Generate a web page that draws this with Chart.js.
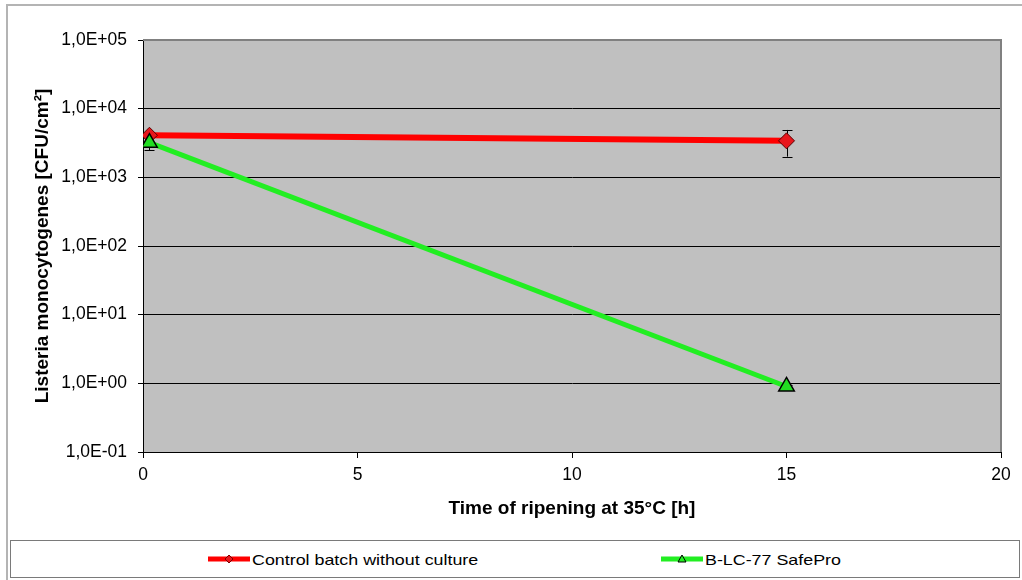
<!DOCTYPE html>
<html>
<head>
<meta charset="utf-8">
<script src="https://cdn.jsdelivr.net/npm/chart.js@4.4.1/dist/chart.umd.min.js"></script>
<style>
    body { margin: 0; background: #fff; font-family: "Liberation Sans", Arial, sans-serif; }
    #wrap { position: relative; width: 1022px; height: 580px; overflow: hidden; }
    #frame { position: absolute; left: 6px; top: 4px; width: 1030px; height: 600px; border: 2px solid #b4b4b4; box-sizing: border-box; }
    #chart { position: absolute; left: 0; top: 0; }
    #legend { position: absolute; left: 10px; top: 540px; width: 1010px; height: 38px; border: 1px solid #7a7a7a; box-sizing: border-box; background: #fff; }
    .item { position: absolute; top: 0; height: 36px; display: flex; align-items: center; font-size: 15px; color: #000; white-space: nowrap; }
    .item svg { margin-right: 2px; }
    .item span { display: inline-block; transform: scaleX(1.19); transform-origin: left center; }
</style>
</head>
<body>
<div id="wrap">
    <div id="frame"></div>
    <canvas id="chart" width="1022" height="535"></canvas>
    <div id="legend">
        <div class="item" style="left:197px">
            <svg width="42" height="14"><line x1="0" y1="7" x2="42" y2="7" stroke="#ff0000" stroke-width="5"/><polygon points="21,3 25,7 21,11 17,7" fill="#e8161c" stroke="#7a0000" stroke-width="1"/></svg>
            <span>Control batch without culture</span>
        </div>
        <div class="item" style="left:650px">
            <svg width="42" height="14"><line x1="0" y1="7" x2="42" y2="7" stroke="#22ee22" stroke-width="5"/><polygon points="21,3 25,10 17,10" fill="#22ee22" stroke="#000" stroke-width="1"/></svg>
            <span>B-LC-77 SafePro</span>
        </div>
    </div>
</div>
<script>
// values
const timeHours = [0.15, 15];
const controlCfu = [4100, 3400];
const controlErrLow = [3900, 2000];
const controlErrHigh = [4400, 4900];
const safeProCfu = [3200, 0.9];
const safeProErrLow = [2500, 0.85];
const safeProErrHigh = [3300, 0.95];
const yTicks = [0.1, 1, 10, 100, 1000, 10000, 100000];
const xTicks = [0, 5, 10, 15, 20];

const fmtSci = (v) => {
    const e = Math.round(Math.log10(v));
    const m = v / Math.pow(10, e);
    const sign = e < 0 ? '-' : '+';
    return m.toFixed(1).replace('.', ',') + 'E' + sign + String(Math.abs(e)).padStart(2, '0');
};

const toPoints = (xs, ys) => xs.map((x, i) => ({ x, y: ys[i] }));

const plotBg = {
    id: 'plotBg',
    beforeDraw(chart) {
        const { ctx, chartArea: a } = chart;
        ctx.save();
        ctx.fillStyle = '#c0c0c0';
        ctx.fillRect(a.left, a.top, a.right - a.left, a.bottom - a.top);
        ctx.restore();
    },
    afterDraw(chart) {
        const { ctx, chartArea: a } = chart;
        ctx.save();
        ctx.strokeStyle = '#808080';
        ctx.lineWidth = 2;
        ctx.beginPath();
        ctx.moveTo(a.left, a.top);
        ctx.lineTo(a.right, a.top);
        ctx.lineTo(a.right, a.bottom);
        ctx.stroke();
        ctx.restore();
    }
};

// error bars, drawn behind the markers
const errorBars = {
    id: 'errorBars',
    beforeDatasetsDraw(chart) {
        const { ctx, scales: { x, y } } = chart;
        const sets = [[controlErrLow, controlErrHigh], [safeProErrLow, safeProErrHigh]];
        ctx.save();
        ctx.strokeStyle = '#000';
        ctx.lineWidth = 1;
        sets.forEach(([lo, hi]) => {
            timeHours.forEach((t, i) => {
                const px = Math.round(x.getPixelForValue(t)) + 0.5;
                const y1 = y.getPixelForValue(lo[i]);
                const y2 = y.getPixelForValue(hi[i]);
                ctx.beginPath();
                ctx.moveTo(px, y1); ctx.lineTo(px, y2);
                ctx.moveTo(px - 5, Math.round(y1) + 0.5); ctx.lineTo(px + 5, Math.round(y1) + 0.5);
                ctx.moveTo(px - 5, Math.round(y2) + 0.5); ctx.lineTo(px + 5, Math.round(y2) + 0.5);
                ctx.stroke();
            });
        });
        ctx.restore();
    }
};

new Chart(document.getElementById('chart'), {
    type: 'line',
    data: {
        datasets: [
            {
                label: 'Control batch without culture',
                data: toPoints(timeHours, controlCfu),
                borderColor: '#ff0000',
                borderWidth: 6,
                pointStyle: 'rectRot',
                pointRadius: 8,
                pointBackgroundColor: '#e8161c',
                pointBorderColor: '#5a0000',
                pointBorderWidth: 1,
                order: 1
            },
            {
                label: 'B-LC-77 SafePro',
                data: toPoints(timeHours, safeProCfu),
                borderColor: '#22ee22',
                borderWidth: 5,
                pointStyle: 'triangle',
                pointRadius: 9,
                pointBackgroundColor: '#22dd22',
                pointBorderColor: '#000',
                pointBorderWidth: 1.5,
                order: 0
            }
        ]
    },
    options: {
        responsive: false,
        devicePixelRatio: 1,
        animation: false,
        layout: { padding: { top: 40, right: 21, left: 0, bottom: 0 } },
        plugins: { legend: { display: false }, tooltip: { enabled: false } },
        scales: {
            x: {
                type: 'linear',
                min: 0,
                max: 20,
                afterBuildTicks: (s) => { s.ticks = xTicks.map(v => ({ value: v })); },
                afterFit: (s) => { s.height = 83; },
                grid: { drawOnChartArea: false, tickLength: 6, tickColor: '#000' },
                border: { color: '#000', width: 1 },
                ticks: { color: '#000', padding: 7, font: { family: 'Liberation Sans', size: 17.5 } },
                title: {
                    display: true,
                    text: 'Time of ripening at 35°C [h]',
                    color: '#000',
                    padding: { top: 0, bottom: 15 },
                    font: { family: 'Liberation Sans', size: 19, weight: 'bold' }
                }
            },
            y: {
                type: 'logarithmic',
                min: 0.1,
                max: 100000,
                afterBuildTicks: (s) => { s.ticks = yTicks.map(v => ({ value: v })); },
                afterFit: (s) => { s.width = 143; },
                grid: { color: '#000', lineWidth: 1, tickLength: 5, tickColor: '#000' },
                border: { color: '#000', width: 1 },
                ticks: { color: '#000', padding: 11, font: { family: 'Liberation Sans', size: 17.5 }, callback: (v) => fmtSci(v) },
                title: {
                    display: true,
                    text: 'Listeria monocytogenes [CFU/cm²]',
                    color: '#000',
                    padding: { top: 31, bottom: 0 },
                    font: { family: 'Liberation Sans', size: 19, weight: 'bold' }
                }
            }
        }
    },
    plugins: [plotBg, errorBars]
});
</script>
</body>
</html>
